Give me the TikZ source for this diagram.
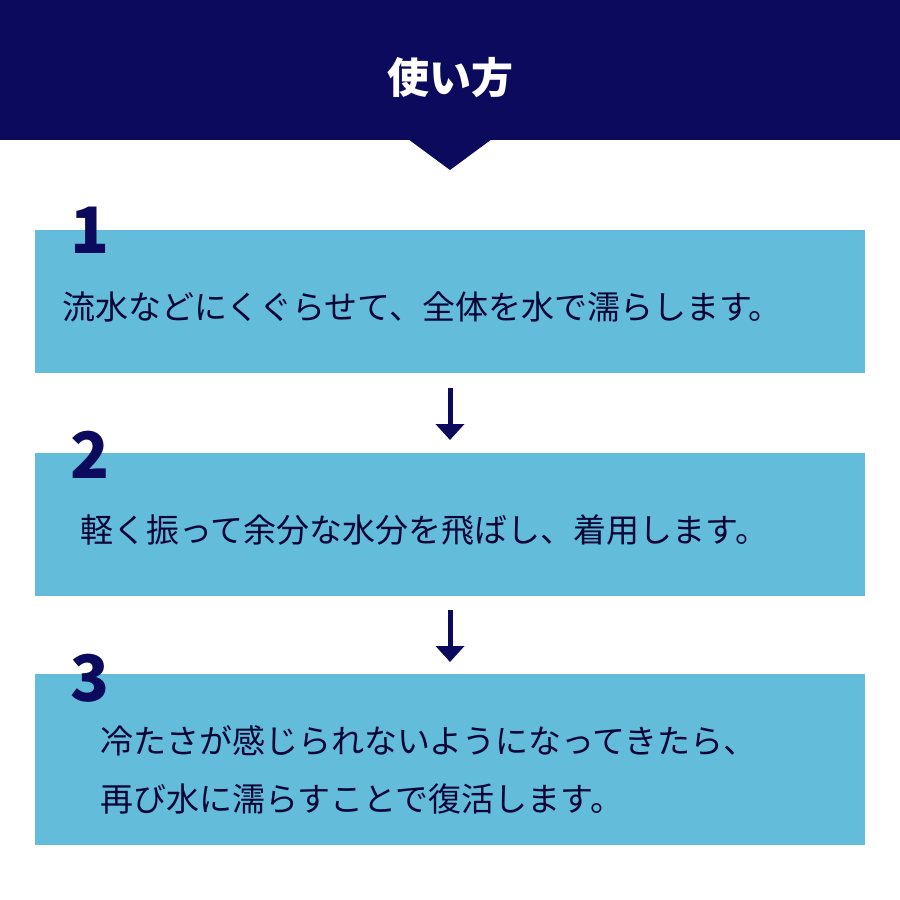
\documentclass[tikz,border=0pt]{standalone}
\usepackage{fontspec}
\setmainfont{Noto Sans CJK JP}
\newfontfamily\jpb{Noto Sans CJK JP}[FakeBold=2]
\usetikzlibrary{arrows.meta}
\definecolor{navy}{HTML}{0B0A5C}
\definecolor{sky}{HTML}{63BCD9}
\tikzset{
 stepbox/.style={fill=sky,draw=none},
 num/.style={text=navy,font=\fontsize{64}{64}\selectfont\bfseries,inner sep=0pt},
 body/.style={text=navy!60!black,font=\fontsize{33}{58}\selectfont,inner sep=0pt,anchor=west,align=left},
 flow/.style={navy,line width=5pt,-{Triangle[length=16pt,width=28pt]}}
}
\begin{document}
\begin{tikzpicture}[x=1pt,y=-1pt]
\useasboundingbox (0,0) rectangle (900,900);
\fill[white] (0,0) rectangle (900,900);
\fill[navy] (0,0) rectangle (900,140);
\fill[navy] (408,139) -- (492,139) -- (450,170) -- cycle;
\node[text=white,font=\fontsize{42}{42}\selectfont\bfseries] (title) at (450,78) {使い方};
\fill[stepbox] (35,230) rectangle (865,373);
\fill[stepbox] (35,453) rectangle (865,596);
\fill[stepbox] (35,674) rectangle (865,845);
\node[num] (n1) at (90,230) {1};
\node[num] (n2) at (90,455) {2};
\node[num] (n3) at (90,678) {3};
\node[body] (t1) at (62,307) {流水などにくぐらせて、全体を水で濡らします。};
\node[body] (t2) at (80,530) {軽く振って余分な水分を飛ばし、着用します。};
\node[body] (t3) at (100,770) {冷たさが感じられないようになってきたら、\\再び水に濡らすことで復活します。};
\coordinate (a1) at (450,388); \coordinate (b1) at (450,440);
\coordinate (a2) at (450,610); \coordinate (b2) at (450,662);
\draw[flow] (a1) -- (b1);
\draw[flow] (a2) -- (b2);
\end{tikzpicture}
\end{document}
